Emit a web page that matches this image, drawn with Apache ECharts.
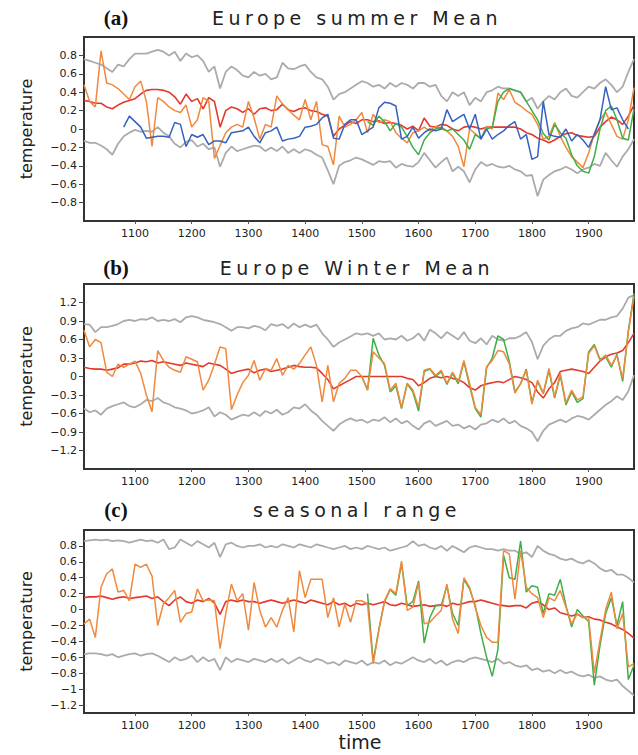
<!DOCTYPE html>
<html><head><meta charset="utf-8">
<script src="https://cdn.jsdelivr.net/npm/echarts@6/dist/echarts.min.js"></script>
<style>html,body{margin:0;padding:0;background:#fff}#c{width:638px;height:755px}</style>
</head><body><div id="c"></div>
<script>
// ---------- data (decadal values, first year given by *Start) ----------
const yearFirst = 1010, yearLast = 1980;
const xTicks = [1100, 1200, 1300, 1400, 1500, 1600, 1700, 1800, 1900];
const aTicks = [-0.8, -0.6, -0.4, -0.2, 0, 0.2, 0.4, 0.6, 0.8];
const bTicks = [-1.2, -0.9, -0.6, -0.3, 0, 0.3, 0.6, 0.9, 1.2];
const cTicks = [-1.2, -1, -0.8, -0.6, -0.4, -0.2, 0, 0.2, 0.4, 0.6, 0.8];
const titles = ["Europe summer Mean", "Europe Winter Mean", "seasonal range"];
const panelTags = ["(a)", "(b)", "(c)"];

// Panel (a) Europe summer mean
const aUpStart = 1010;
const aUp = [0.76,0.74,0.72,0.70,0.66,0.62,0.70,0.68,0.76,0.82,
 0.82,0.82,0.84,0.86,0.84,0.80,0.84,0.74,0.82,0.78,
 0.80,0.74,0.62,0.68,0.44,0.62,0.68,0.64,0.58,0.56,
 0.62,0.58,0.60,0.54,0.56,0.72,0.66,0.65,0.68,0.70,
 0.62,0.56,0.54,0.46,0.32,0.38,0.40,0.44,0.48,0.52,
 0.50,0.46,0.48,0.44,0.50,0.46,0.50,0.48,0.44,0.50,
 0.50,0.46,0.48,0.36,0.30,0.40,0.36,0.40,0.26,0.34,
 0.30,0.40,0.42,0.46,0.44,0.44,0.42,0.40,0.30,0.34,
 0.22,0.30,0.36,0.32,0.40,0.44,0.36,0.34,0.40,0.46,
 0.44,0.50,0.54,0.48,0.40,0.46,0.62,0.76];
const aLoStart = 1010;
const aLo = [-0.13,-0.15,-0.15,-0.18,-0.22,-0.28,-0.16,-0.08,-0.04,-0.01,
 -0.03,-0.02,-0.03,0.02,-0.04,-0.08,-0.16,-0.20,-0.14,-0.12,
 -0.19,-0.16,-0.22,-0.20,-0.41,-0.26,-0.19,-0.24,-0.22,-0.20,
 -0.18,-0.19,-0.24,-0.20,-0.24,-0.19,-0.26,-0.22,-0.26,-0.22,
 -0.24,-0.28,-0.31,-0.45,-0.60,-0.40,-0.36,-0.34,-0.31,-0.33,
 -0.36,-0.39,-0.35,-0.36,-0.35,-0.42,-0.38,-0.40,-0.41,-0.36,
 -0.26,-0.34,-0.42,-0.36,-0.31,-0.46,-0.41,-0.46,-0.58,-0.44,
 -0.36,-0.40,-0.38,-0.41,-0.42,-0.40,-0.44,-0.46,-0.51,-0.50,
 -0.73,-0.55,-0.50,-0.46,-0.44,-0.41,-0.44,-0.48,-0.44,-0.42,
 -0.38,-0.40,-0.26,-0.34,-0.41,-0.30,-0.22,-0.11];
const aRedStart = 1010;
const aRed = [0.31,0.30,0.28,0.28,0.24,0.22,0.26,0.29,0.31,0.33,
 0.38,0.42,0.43,0.43,0.42,0.40,0.35,0.27,0.38,0.30,
 0.33,0.22,0.34,0.30,0.02,0.20,0.24,0.22,0.18,0.22,
 0.16,0.22,0.23,0.20,0.21,0.27,0.21,0.19,0.22,0.23,
 0.20,0.19,0.16,0.14,-0.08,0.00,0.04,0.08,0.06,0.10,
 0.10,0.08,0.09,0.06,0.07,0.06,0.04,0.00,0.03,-0.02,
 0.12,0.03,0.02,0.05,0.04,0.00,-0.02,0.02,0.03,0.02,
 0.00,0.02,0.02,0.02,0.02,0.02,0.02,0.00,-0.04,-0.06,
 -0.10,-0.12,-0.15,-0.12,-0.08,-0.05,-0.04,-0.07,-0.08,-0.09,
 -0.08,0.02,0.08,0.13,0.10,0.05,0.14,0.26];
const aOrStart = 1010;
const aOr = [0.48,0.30,0.24,0.85,0.50,0.48,0.44,0.38,0.32,0.46,
 0.52,0.30,-0.19,0.34,0.30,0.24,0.20,0.18,0.26,0.02,
 0.10,0.34,0.30,-0.32,-0.18,-0.04,0.02,0.05,0.02,0.30,
 0.12,-0.11,0.05,0.02,0.36,0.27,0.21,0.15,0.10,0.32,
 0.10,0.30,-0.17,-0.19,-0.39,0.14,0.02,0.05,0.10,0.18,
 -0.04,0.16,0.07,0.10,0.08,-0.04,-0.10,-0.15,-0.04,-0.02,
 0.02,-0.02,0.03,0.00,-0.02,-0.08,-0.19,-0.41,0.00,-0.05,
 -0.11,0.03,0.00,0.39,0.32,0.43,0.29,0.25,0.20,0.16,
 0.05,-0.11,-0.08,0.07,-0.08,-0.20,-0.30,-0.36,-0.42,-0.26,
 -0.05,0.10,0.18,0.05,-0.08,-0.11,0.10,0.45];
const aBlueStart = 1080;
const aBlue = [0.02,0.14,0.08,
 0.02,-0.10,-0.09,-0.08,-0.08,-0.09,0.07,0.05,-0.19,-0.06,
 -0.09,-0.06,-0.17,-0.13,-0.13,-0.15,-0.04,-0.03,-0.02,0.02,
 -0.08,-0.15,-0.04,-0.02,0.02,-0.13,-0.11,-0.10,-0.08,0.02,
 0.03,0.05,0.12,0.16,-0.10,-0.11,0.05,0.10,0.10,-0.06,
 -0.02,0.02,0.23,0.29,0.28,0.25,-0.11,-0.08,0.02,-0.10,
 -0.04,0.00,-0.02,0.00,0.21,0.08,0.12,0.16,0.00,0.16,
 -0.11,0.00,-0.11,-0.06,-0.02,0.04,0.08,-0.11,-0.06,-0.33,
 -0.30,0.30,-0.06,-0.08,-0.09,0.00,-0.13,-0.06,-0.12,-0.20,
 -0.06,0.10,0.46,0.21,0.23,0.10,0.00];
const aGreenStart = 1510;
const aGreen = [0.08,0.04,0.14,0.08,-0.02,0.06,0.02,-0.08,-0.20,-0.28,
 -0.12,-0.04,0.00,0.02,-0.02,0.00,-0.06,-0.12,-0.22,-0.06,
 -0.10,0.00,0.02,0.30,0.40,0.44,0.42,0.40,0.30,0.20,
 0.10,-0.05,-0.12,0.05,-0.04,-0.10,-0.28,-0.40,-0.46,-0.48,
 -0.30,0.00,0.20,0.25,0.10,-0.10,-0.12,0.22];

// Panel (b) Europe winter mean
const bUpStart = 1010;
const bUp = [0.85,0.84,0.72,0.80,0.80,0.82,0.85,0.90,0.92,0.90,
 0.93,0.92,0.96,0.90,0.92,0.90,0.93,0.88,0.96,0.98,
 0.96,0.92,0.90,0.88,0.85,0.80,0.74,0.80,0.80,0.78,
 0.82,0.80,0.75,0.85,0.82,0.85,0.78,0.86,0.80,0.84,
 0.80,0.84,0.70,0.60,0.48,0.55,0.60,0.65,0.70,0.68,
 0.70,0.66,0.70,0.60,0.62,0.60,0.66,0.58,0.62,0.70,
 0.58,0.76,0.70,0.62,0.72,0.66,0.60,0.72,0.58,0.54,
 0.62,0.52,0.66,0.60,0.58,0.62,0.62,0.66,0.72,0.56,
 0.28,0.50,0.60,0.66,0.66,0.74,0.78,0.80,0.86,0.84,
 0.88,0.92,0.92,0.96,0.98,1.10,1.28,1.32];
const bLoStart = 1010;
const bLo = [-0.52,-0.58,-0.55,-0.62,-0.52,-0.48,-0.45,-0.42,-0.48,-0.50,
 -0.45,-0.38,-0.40,-0.35,-0.42,-0.45,-0.50,-0.52,-0.55,-0.60,
 -0.58,-0.55,-0.50,-0.65,-0.58,-0.62,-0.70,-0.66,-0.62,-0.64,
 -0.58,-0.64,-0.56,-0.60,-0.54,-0.62,-0.58,-0.50,-0.52,-0.45,
 -0.55,-0.62,-0.72,-0.80,-0.88,-0.78,-0.72,-0.68,-0.72,-0.70,
 -0.75,-0.70,-0.72,-0.66,-0.74,-0.68,-0.76,-0.72,-0.80,-0.86,
 -0.76,-0.72,-0.80,-0.76,-0.72,-0.80,-0.78,-0.84,-0.80,-0.86,
 -0.78,-0.76,-0.70,-0.74,-0.68,-0.76,-0.72,-0.80,-0.84,-0.90,
 -1.05,-0.88,-0.78,-0.74,-0.70,-0.74,-0.68,-0.64,-0.66,-0.70,
 -0.62,-0.54,-0.46,-0.40,-0.32,-0.38,-0.24,0.02];
const bRedStart = 1010;
const bRed = [0.15,0.13,0.12,0.12,0.10,0.12,0.14,0.20,0.20,0.22,
 0.25,0.24,0.26,0.22,0.24,0.22,0.20,0.18,0.22,0.20,
 0.18,0.16,0.22,0.20,0.18,0.12,0.05,0.08,0.10,0.12,
 0.06,0.10,0.12,0.08,0.10,0.12,0.15,0.18,0.16,0.15,
 0.15,0.14,0.05,-0.05,-0.20,-0.15,-0.10,-0.05,0.00,0.00,
 0.00,0.00,0.00,0.00,0.00,0.00,0.00,-0.03,-0.05,-0.15,
 -0.10,-0.03,0.00,-0.02,0.00,-0.03,-0.05,-0.10,-0.18,-0.22,
 -0.15,-0.12,-0.10,-0.08,-0.10,-0.05,0.00,-0.02,-0.05,-0.10,
 -0.25,-0.35,-0.20,-0.10,0.08,0.10,0.12,0.10,0.08,0.05,
 0.15,0.25,0.32,0.36,0.38,0.42,0.55,0.70];
const bOrStart = 1010;
const bOr = [0.75,0.48,0.60,0.55,0.07,0.00,0.20,0.15,0.20,0.25,
 0.05,-0.30,-0.57,0.42,0.26,0.15,0.10,0.07,0.32,0.28,
 0.24,-0.22,-0.06,0.20,0.48,0.45,-0.54,-0.30,-0.10,0.02,
 0.26,-0.06,0.13,0.10,0.29,0.02,0.18,0.12,0.21,0.35,
 0.48,0.18,-0.41,0.18,-0.41,-0.11,-0.03,0.10,0.10,0.00,
 -0.22,0.40,0.30,0.21,-0.22,-0.11,-0.50,-0.11,-0.22,-0.50,
 0.10,0.13,0.02,0.10,-0.11,0.07,-0.09,0.26,-0.11,-0.50,
 -0.62,0.16,0.26,0.42,0.40,0.21,-0.27,-0.11,0.10,-0.45,
 -0.06,-0.27,0.13,-0.33,0.05,-0.43,-0.22,-0.38,-0.33,0.37,
 0.50,0.26,0.35,0.18,0.34,-0.03,0.72,1.30];
const bGreenStart = 1500;
const bGreen = [0.00,
 -0.22,0.62,0.35,0.18,-0.25,-0.15,-0.52,-0.12,-0.25,-0.56,
 0.08,0.12,0.00,0.08,-0.13,0.05,-0.12,0.24,-0.15,-0.52,
 -0.66,0.14,0.30,0.66,0.60,0.25,-0.25,-0.12,0.12,-0.42,
 -0.08,-0.28,0.10,-0.35,0.02,-0.46,-0.25,-0.42,-0.36,0.40,
 0.52,0.28,0.32,0.15,0.36,-0.08,0.74,1.35];

// Panel (c) seasonal range
const cUpStart = 1010;
const cUp = [0.86,0.87,0.88,0.87,0.88,0.86,0.87,0.86,0.84,0.86,
 0.88,0.86,0.87,0.84,0.88,0.76,0.78,0.88,0.84,0.80,
 0.86,0.82,0.78,0.84,0.66,0.82,0.84,0.80,0.78,0.80,
 0.80,0.82,0.78,0.80,0.78,0.82,0.80,0.78,0.82,0.80,
 0.78,0.82,0.80,0.78,0.76,0.78,0.80,0.76,0.78,0.76,
 0.80,0.78,0.76,0.78,0.74,0.76,0.78,0.80,0.86,0.80,
 0.82,0.78,0.76,0.80,0.74,0.80,0.76,0.72,0.78,0.80,
 0.78,0.76,0.76,0.74,0.76,0.74,0.74,0.70,0.72,0.66,
 0.80,0.74,0.70,0.68,0.64,0.62,0.64,0.60,0.58,0.62,
 0.58,0.52,0.48,0.50,0.44,0.44,0.40,0.34];
const cLoStart = 1010;
const cLo = [-0.56,-0.55,-0.55,-0.56,-0.58,-0.56,-0.60,-0.58,-0.56,-0.55,
 -0.58,-0.56,-0.55,-0.58,-0.62,-0.66,-0.60,-0.64,-0.62,-0.58,
 -0.66,-0.60,-0.65,-0.62,-0.76,-0.60,-0.66,-0.62,-0.64,-0.66,
 -0.62,-0.64,-0.66,-0.62,-0.66,-0.62,-0.68,-0.64,-0.60,-0.64,
 -0.66,-0.62,-0.64,-0.68,-0.66,-0.70,-0.64,-0.66,-0.68,-0.64,
 -0.70,-0.66,-0.68,-0.64,-0.70,-0.66,-0.68,-0.64,-0.60,-0.64,
 -0.66,-0.62,-0.68,-0.64,-0.70,-0.66,-0.64,-0.66,-0.62,-0.60,
 -0.62,-0.64,-0.66,-0.62,-0.68,-0.66,-0.70,-0.72,-0.70,-0.76,
 -0.74,-0.78,-0.76,-0.80,-0.76,-0.80,-0.78,-0.82,-0.84,-0.82,
 -0.86,-0.84,-0.88,-0.90,-0.88,-0.96,-1.02,-1.08];
const cRedStart = 1010;
const cRed = [0.15,0.16,0.16,0.17,0.15,0.13,0.15,0.16,0.14,0.15,
 0.16,0.17,0.14,0.16,0.10,0.05,0.12,0.16,0.10,0.08,
 0.12,0.10,0.14,0.08,-0.06,0.10,0.12,0.10,0.12,0.10,
 0.10,0.08,0.10,0.12,0.10,0.08,0.10,0.12,0.10,0.08,
 0.12,0.10,0.08,0.06,0.10,0.06,0.08,0.04,0.08,0.06,
 0.08,0.06,0.08,0.10,0.06,0.05,0.08,0.06,0.04,0.05,
 0.06,0.04,0.05,0.06,0.04,0.08,0.06,0.08,0.10,0.10,
 0.12,0.10,0.08,0.06,0.05,0.04,0.05,0.05,0.02,0.08,
 0.10,0.06,0.00,0.02,-0.04,-0.06,-0.08,-0.06,-0.10,-0.09,
 -0.12,-0.13,-0.16,-0.18,-0.22,-0.25,-0.30,-0.36];
const cOrStart = 1010;
const cOr = [-0.18,-0.12,-0.35,0.28,0.45,0.51,0.22,0.24,0.11,0.57,
 0.53,0.57,0.42,-0.20,0.07,0.15,0.24,-0.16,-0.05,-0.03,
 0.26,0.11,0.12,0.11,-0.49,-0.05,0.32,0.11,0.20,-0.26,
 0.34,-0.01,-0.22,-0.10,-0.22,-0.01,0.15,-0.28,0.49,0.15,
 0.38,0.38,0.38,-0.10,0.15,-0.22,0.07,-0.16,0.11,0.11,
 0.07,-0.68,-0.26,0.11,0.26,0.20,0.61,-0.01,0.03,0.34,
 -0.18,-0.16,-0.08,-0.01,0.32,-0.12,-0.30,0.40,0.28,0.03,
 -0.20,-0.35,-0.41,-0.41,0.74,0.70,0.13,0.74,0.28,0.20,
 0.15,-0.10,0.15,0.11,0.24,0.03,-0.18,-0.05,-0.10,-0.10,
 -0.80,-0.39,0.00,0.22,-0.24,-0.05,-0.72,-0.68];
const cGreenStart = 1510;
const cGreen = [0.20,-0.65,-0.25,0.10,0.25,0.18,0.58,0.05,0.10,0.36,
 -0.42,-0.10,0.05,0.05,0.30,-0.05,-0.20,0.38,0.26,0.05,
 -0.30,-0.60,-0.84,-0.50,0.68,0.40,0.38,0.86,0.22,0.30,
 0.28,-0.05,0.20,0.18,0.38,0.05,-0.22,0.00,-0.08,-0.15,
 -0.95,-0.45,-0.05,0.15,-0.20,0.10,-0.88,-0.70];

// ---------- chart ----------
const C = {gray:'#ababab', red:'#e2392c', orange:'#f0893d', green:'#3fae48', blue:'#3462bf'};
function pts(start, vals){ return vals.map((v,i)=>[start + 10*i, v]); }

const grids = [
  {left:84, right:4, top:37, height:184},
  {left:84, right:4, top:284, height:185},
  {left:84, right:4, top:530, height:183}
];
const yRanges = [[-1,1,aTicks],[-1.5,1.5,bTicks],[-1.3,1.0,cTicks]];
const font = 'DejaVu Sans';

function fmt(v){ if (v === 0) return '0'; return v < 0 ? '\u2212' + String(Math.abs(v)) : String(v); }

const xAxis = grids.map((g,i)=>({
  type:'value', gridIndex:i, min:yearFirst, max:yearLast,
  axisLine:{show:true, onZero:false, lineStyle:{color:'#333', width:2}},
  axisTick:{show:true, length:3, customValues:xTicks, lineStyle:{color:'#555', width:1}},
  axisLabel:{customValues:xTicks, formatter:v=>String(v), fontSize:11, color:'#222', margin:7, fontFamily:font},
  splitLine:{show:false}
}));
const yAxis = grids.map((g,i)=>({
  type:'value', gridIndex:i, min:yRanges[i][0], max:yRanges[i][1],
  axisLine:{show:true, onZero:false, lineStyle:{color:'#333', width:2}},
  axisTick:{show:true, length:5, customValues:yRanges[i][2], lineStyle:{color:'#444', width:1}},
  axisLabel:{customValues:yRanges[i][2], formatter:fmt, fontSize:11, color:'#222', margin:7, fontFamily:font},
  splitLine:{show:false}
}));

function ln(i, data, color, w, z){
  return {type:'line', xAxisIndex:i, yAxisIndex:i, data:data, showSymbol:false, symbol:'none',
    silent:true, z:z, lineStyle:{color:color, width:w}};
}
const series = [
  ln(0, pts(aUpStart,aUp), C.gray, 1.8, 2), ln(0, pts(aLoStart,aLo), C.gray, 1.8, 2),
  ln(0, pts(aRedStart,aRed), C.red, 1.6, 3), ln(0, pts(aOrStart,aOr), C.orange, 1.5, 4),
  ln(0, pts(aGreenStart,aGreen), C.green, 1.5, 5), ln(0, pts(aBlueStart,aBlue), C.blue, 1.5, 6),
  ln(1, pts(bUpStart,bUp), C.gray, 1.8, 2), ln(1, pts(bLoStart,bLo), C.gray, 1.8, 2),
  ln(1, pts(bRedStart,bRed), C.red, 1.6, 3), ln(1, pts(bGreenStart,bGreen), C.green, 1.5, 4),
  ln(1, pts(bOrStart,bOr), C.orange, 1.5, 5),
  ln(2, pts(cUpStart,cUp), C.gray, 1.8, 2), ln(2, pts(cLoStart,cLo), C.gray, 1.8, 2),
  ln(2, pts(cRedStart,cRed), C.red, 1.6, 3), ln(2, pts(cGreenStart,cGreen), C.green, 1.5, 4),
  ln(2, pts(cOrStart,cOr), C.orange, 1.5, 5)
];

const titleY = [18, 268, 510];
const graphic = [];
grids.forEach((g,i)=>{
  graphic.push({type:'text', x:116, y:titleY[i], z:10,
    style:{text:panelTags[i], font:'bold 21px "Liberation Serif"', fill:'#111',
      textAlign:'center', align:'center', textVerticalAlign:'middle', verticalAlign:'middle'}});
  graphic.push({type:'text', x:357, y:titleY[i], z:10,
    style:{text:titles[i], font:'19px "DejaVu Sans"', fill:'#222',
      textAlign:'center', align:'center', textVerticalAlign:'middle', verticalAlign:'middle'}});
  graphic.push({type:'text', x:26, y:g.top + g.height/2, rotation:Math.PI/2, z:10,
    style:{text:'temperature', font:'16px "DejaVu Sans"', fill:'#222',
      textAlign:'center', align:'center', textVerticalAlign:'middle', verticalAlign:'middle'}});
});
graphic.push({type:'text', x:360, y:742, z:10,
  style:{text:'time', font:'19px "DejaVu Sans"', fill:'#222',
    textAlign:'center', align:'center', textVerticalAlign:'middle', verticalAlign:'middle'}});

const chart = echarts.init(document.getElementById('c'), null, {renderer:'svg'});
chart.setOption({
  animation:false,
  backgroundColor:'#fff',
  grid: grids.map(g=>Object.assign({show:true, borderColor:'#333', borderWidth:2, containLabel:false}, g)),
  xAxis, yAxis, series, graphic
});
// widen letter spacing of the panel titles as in the original
document.querySelectorAll('#c svg text').forEach(t=>{
  if (titles.indexOf(t.textContent) >= 0) { t.style.letterSpacing = '4.5px'; }
});
</script></body></html>
